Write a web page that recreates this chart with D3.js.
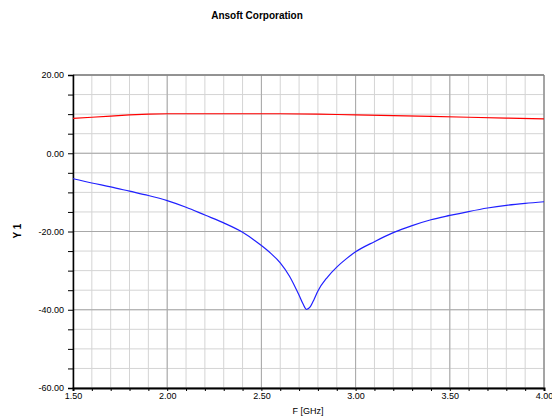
<!DOCTYPE html>
<html><head><meta charset="utf-8">
<script src="https://cdn.jsdelivr.net/npm/d3@7"></script>
<style>body{margin:0;background:#fff}svg{display:block}text{font-family:"Liberation Sans",Arial,sans-serif}</style>
</head><body>
<div id="chart"></div>
<script>
const title = "Ansoft Corporation";
const xLabel = "F [GHz]";
const yLabel = "Y 1";
const xTickLabels = ["1.50","2.00","2.50","3.00","3.50","4.00"];
const yTickLabels = ["20.00","0.00","-20.00","-40.00","-60.00"];

const redF = [1.50,1.60,1.70,1.80,1.90,2.00,2.20,2.40,2.60,2.80,2.90,3.00,3.20,3.40,3.60,3.80,4.00];
const redY = [8.9,9.2,9.5,9.8,10.0,10.1,10.1,10.1,10.1,10.0,9.9,9.8,9.6,9.4,9.2,9.0,8.8];

const blueF = [1.50,1.60,1.70,1.80,1.90,2.00,2.10,2.20,2.30,2.40,2.50,2.55,2.60,2.65,2.70,2.72,2.74,2.76,2.78,2.80,2.85,2.90,2.95,3.00,3.10,3.20,3.30,3.40,3.50,3.60,3.70,3.80,3.90,4.00];
const blueY = [-6.5,-7.6,-8.6,-9.7,-10.8,-12.1,-13.8,-15.8,-17.8,-20.2,-23.6,-25.6,-28.0,-31.5,-36.3,-38.4,-39.9,-39.2,-37.3,-35.2,-31.7,-29.1,-27.0,-25.2,-22.6,-20.3,-18.5,-17.0,-15.9,-14.9,-14.0,-13.3,-12.8,-12.4];

const W = 552, H = 419;
const m = {left:73, right:8, top:75, bottom:31};
const svg = d3.select("#chart").append("svg").attr("width",W).attr("height",H);
const x = d3.scaleLinear().domain([1.5,4.0]).range([m.left, W-m.right]);
const y = d3.scaleLinear().domain([-60,20]).range([H-m.bottom, m.top]);

const minorX = d3.range(0,26).map(i=>1.5+i*0.1);
const minorY = d3.range(0,17).map(i=>-60+i*5);
const majorX = xTickLabels.map(Number);
const majorY = yTickLabels.map(Number);

const g = svg.append("g");
g.selectAll(".mx").data(minorX).join("line")
  .attr("x1",d=>x(d)).attr("x2",d=>x(d)).attr("y1",y(-60)).attr("y2",y(20))
  .attr("stroke","#d4d4d4").attr("stroke-width",1);
g.selectAll(".my").data(minorY).join("line")
  .attr("y1",d=>y(d)).attr("y2",d=>y(d)).attr("x1",x(1.5)).attr("x2",x(4))
  .attr("stroke","#d4d4d4").attr("stroke-width",1);
g.selectAll(".Mx").data(majorX).join("line")
  .attr("x1",d=>x(d)).attr("x2",d=>x(d)).attr("y1",y(-60)).attr("y2",y(20))
  .attr("stroke","#a8a8a8").attr("stroke-width",1);
g.selectAll(".My").data(majorY).join("line")
  .attr("y1",d=>y(d)).attr("y2",d=>y(d)).attr("x1",x(1.5)).attr("x2",x(4))
  .attr("stroke","#a8a8a8").attr("stroke-width",1);
g.append("line").attr("x1",x(1.5)).attr("x2",x(4)).attr("y1",y(20)).attr("y2",y(20)).attr("stroke","#808080").attr("stroke-width",1.5);
g.append("line").attr("x1",x(4)).attr("x2",x(4)).attr("y1",y(20)).attr("y2",y(-60)).attr("stroke","#808080").attr("stroke-width",1);

const xAxis = d3.axisBottom(x).tickValues(minorX).tickSize(3)
  .tickFormat(d=>{const i=majorX.findIndex(v=>Math.abs(v-d)<1e-6);return i>=0?xTickLabels[i]:"";});
const xa = svg.append("g").attr("transform",`translate(0,${y(-60)})`).call(xAxis);
xa.select(".domain").attr("stroke","#000").attr("stroke-width",2);
xa.selectAll(".tick text").attr("font-size",9).attr("fill","#000").attr("dy","0.5em");
const yAxis = d3.axisLeft(y).tickValues(minorY).tickSize(5)
  .tickFormat(d=>{const i=majorY.findIndex(v=>Math.abs(v-d)<1e-6);return i>=0?yTickLabels[i]:"";});
const ya = svg.append("g").attr("transform",`translate(${x(1.5)},0)`).call(yAxis);
ya.select(".domain").attr("stroke","#000").attr("stroke-width",1.5);
ya.selectAll(".tick text").attr("font-size",9).attr("fill","#000").attr("dx","-0.1em");
ya.selectAll(".tick line").attr("stroke","#000");

const line = d3.line().x(d=>x(d[0])).y(d=>y(d[1]));
svg.append("path").datum(redF.map((f,i)=>[f,redY[i]])).attr("d",line)
  .attr("fill","none").attr("stroke","#ff0000").attr("stroke-width",1.2);
svg.append("path").datum(blueF.map((f,i)=>[f,blueY[i]])).attr("d",line.curve(d3.curveMonotoneX))
  .attr("fill","none").attr("stroke","#2020ff").attr("stroke-width",1.2);

svg.append("text").attr("x",257).attr("y",19).attr("text-anchor","middle")
  .attr("font-size",10).attr("font-weight","bold").text(title);
svg.append("text").attr("x",308).attr("y",414).attr("text-anchor","middle")
  .attr("font-size",9).text(xLabel);
svg.append("text").attr("transform",`translate(21,231) rotate(-90)`).attr("text-anchor","middle")
  .attr("font-size",10).attr("font-weight","bold").text(yLabel);
</script>
</body></html>
